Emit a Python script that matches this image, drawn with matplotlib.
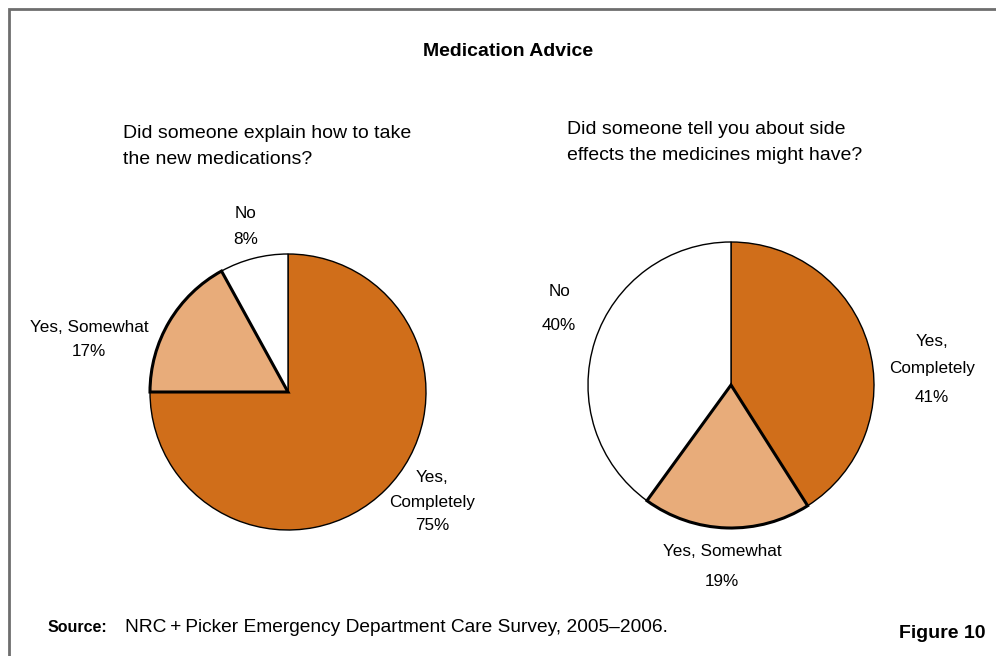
import matplotlib.pyplot as plt
from matplotlib.patches import Rectangle

W, H = 996, 656

categories = ['Yes, Completely', 'Yes, Somewhat', 'No']
left_values = [75, 17, 8]
right_values = [41, 19, 40]
colors = ['#D06E1A', '#E8AC7A', '#FFFFFF']

title = 'Medication Advice'
left_question = ['Did someone explain how to take', 'the new medications?']
right_question = ['Did someone tell you about side', 'effects the medicines might have?']
source = 'NRC\u2009+\u2009Picker Emergency Department Care Survey, 2005\u20132006.'

fam = ['Liberation Sans Narrow', 'Liberation Sans', 'DejaVu Sans']

fig = plt.figure(figsize=(W / 100, H / 100), dpi=100)
ax = fig.add_axes([0, 0, 1, 1])


def Y(y):
    # pixel row (from top) -> data y
    return H - y


def lines(x, ys, texts, ha='center', **kw):
    for y, t in zip(ys, texts):
        ax.text(x, Y(y), t, ha=ha, va='center', family=fam, **kw)


def draw_pie(values, cx, cy, r):
    wedges, _ = ax.pie(values, colors=colors, startangle=90, counterclock=False,
                       center=(cx, Y(cy)), radius=r,
                       wedgeprops=dict(edgecolor='black', linewidth=1.0))
    wedges[1].set_linewidth(2.2)
    wedges[1].set_zorder(3)
    return wedges


draw_pie(left_values, 288, 392, 138)
draw_pie(right_values, 731, 385, 143)

# frame (left and top edges visible)
ax.add_patch(Rectangle((9, -20), W + 40, Y(9) + 20, fill=False,
                       edgecolor='#6E6E6E', linewidth=2))

ax.text(508, Y(52), title, ha='center', va='center', fontsize=14,
        fontweight='bold', family=fam)
lines(123, [134, 160], left_question, ha='left', fontsize=14)
lines(567, [130, 156], right_question, ha='left', fontsize=14)

fs = 12.3
# left pie labels
lines(432, [478, 502, 526], ['Yes,', categories[0].split(', ')[1],
                             '%d%%' % left_values[0]], fontsize=fs)
lines(89, [327, 352], [categories[1], '%d%%' % left_values[1]], fontsize=fs)
lines(246, [214, 239], [categories[2], '%d%%' % left_values[2]], fontsize=fs)
# right pie labels
lines(932, [341, 368, 398], ['Yes,', categories[0].split(', ')[1],
                             '%d%%' % right_values[0]], fontsize=fs)
lines(722, [551, 582], [categories[1], '%d%%' % right_values[1]], fontsize=fs)
lines(559, [291, 325], [categories[2], '%d%%' % right_values[2]], fontsize=fs)

ax.text(48, Y(627), 'Source:', ha='left', va='center', fontsize=11.5,
        fontweight='bold', family=fam)
ax.text(125, Y(627), source, ha='left', va='center', fontsize=13.8, family=fam)
ax.text(942, Y(633), 'Figure 10', ha='center', va='center', fontsize=14,
        fontweight='bold', family=fam)

ax.set_xlim(0, W)
ax.set_ylim(0, H)
ax.set_aspect('equal')
ax.axis('off')

fig.savefig('out.png', dpi=100)
